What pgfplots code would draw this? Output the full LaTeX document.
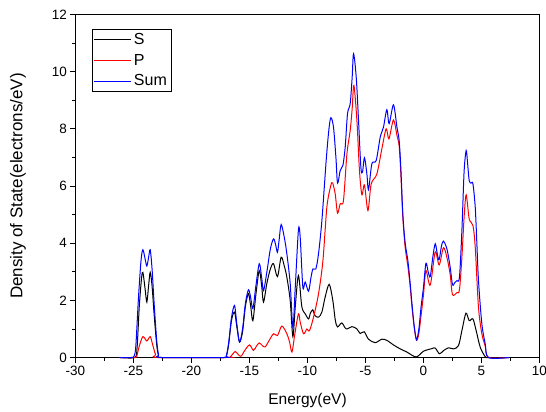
\documentclass[border=0pt]{standalone}
\usepackage{pgfplots}
\pgfplotsset{compat=1.18}
\usepackage{fontspec}
\setmainfont{Liberation Sans}
\begin{document}
\begin{tikzpicture}
\begin{axis}[
  name=ax,
  scale only axis,
  width=464pt, height=343pt,
  xmin=-30, xmax=10, ymin=0, ymax=12,
  xtick={-30,-25,...,10}, ytick={0,2,...,12},
  minor x tick num=1, minor y tick num=1,
  tick pos=left, tick align=outside,
  major tick length=5pt, minor tick length=3pt,
  axis line style={line width=0.9pt},
  every tick/.style={line width=0.8pt, black},
  /pgf/number format/assume math mode=true,
  ticklabel style={font=\fontsize{13.5}{15}\selectfont},
  xlabel={Energy(eV)},
  ylabel={Density of State(electrons/eV)},
  xlabel style={font=\fontsize{15.5}{17}\selectfont, at={(axis description cs:0.5,-0.124)}, anchor=center},
  ylabel style={font=\fontsize{17}{19}\selectfont, at={(axis description cs:-0.124,0.5)}, anchor=center},
  clip=false,
  legend style={at={(rel axis cs:0.035,0.957)}, anchor=north west, draw=black, line width=0.6pt,
    font=\fontsize{16}{16}\selectfont, inner sep=2pt, row sep=4pt, cells={anchor=west}},
  legend image code/.code={\draw[#1, line width=0.9pt] (0pt,0pt) -- (37pt,0pt);},
]
% S
\addplot[black, line width=1pt, smooth, tension=0.5] coordinates {
(-26.2,0) (-24.9,0) (-24.7,0.3) (-24.5,1.8) (-24.3,2.8) (-24.19,2.98) (-24.0,2.4) (-23.85,1.94)
(-23.7,2.5) (-23.56,2.98) (-23.4,2.5) (-23.22,1.5) (-23.0,0.45) (-22.84,0.08) (-22.6,0)
(-17.2,0) (-17.0,0.05) (-16.8,0.45) (-16.55,1.3) (-16.29,1.59) (-16.1,1.1) (-15.86,0.54)
(-15.6,0.9) (-15.35,1.8) (-15.09,2.23) (-14.9,1.8) (-14.71,1.29) (-14.45,2.2) (-14.16,3.04)
(-13.95,2.5) (-13.79,1.94) (-13.5,2.6) (-13.2,3.1) (-12.93,3.28) (-12.59,2.83) (-12.27,3.51)
(-12.0,3.2) (-11.78,2.81) (-11.49,1.99) (-11.26,0.73) (-11.05,1.8) (-10.78,2.87) (-10.49,1.78)
(-10.20,1.53) (-9.91,1.35) (-9.77,1.53) (-9.55,1.67) (-9.36,1.47) (-9.05,1.41) (-8.76,1.59)
(-8.48,2.11) (-8.13,2.56) (-7.82,2.0) (-7.60,1.3) (-7.41,1.07) (-7.04,1.21) (-6.67,1.0)
(-6.17,1.08) (-5.74,1.0) (-5.46,0.84) (-5.11,0.9) (-4.74,0.64) (-4.16,0.52) (-3.59,0.64)
(-3.16,0.60) (-2.59,0.44) (-2.0,0.30) (-1.43,0.19) (-0.63,0.02) (0.0,0.22) (0.72,0.31)
(1.01,0.33) (1.38,0.13) (1.72,0.24) (2.16,0.34) (2.59,0.30) (3.02,0.42) (3.31,0.94)
(3.66,1.55) (3.94,1.29) (4.26,1.35) (4.54,0.94) (4.89,0.36) (5.32,0.03) (5.60,0) (7.35,0)
};
\addlegendentry{S}
% P
\addplot[red, line width=1pt, smooth, tension=0.5] coordinates {
(-26.2,0) (-24.85,0) (-24.7,0.08) (-24.5,0.4) (-24.19,0.73) (-23.85,0.58) (-23.56,0.73)
(-23.35,0.45) (-23.1,0.1) (-22.9,0) (-17.0,0) (-16.66,0.02) (-16.45,0.12) (-16.23,0.21)
(-16.0,0.12) (-15.74,0.04) (-15.4,0.25) (-15.0,0.44) (-14.66,0.25) (-14.4,0.4) (-14.16,0.51)
(-13.9,0.42) (-13.65,0.37) (-13.3,0.6) (-12.93,0.83) (-12.59,0.77) (-12.21,1.10) (-11.78,0.83)
(-11.55,0.55) (-11.34,0.19) (-11.1,0.8) (-10.78,1.53) (-10.63,1.24) (-10.34,0.83) (-10.05,1.0)
(-9.83,0.94) (-9.48,1.41) (-9.05,2.23) (-8.67,3.39) (-8.33,5.26) (-8.0,6.0) (-7.84,6.11)
(-7.61,5.72) (-7.41,5.05) (-7.18,5.38) (-6.90,5.49) (-6.60,7.13) (-6.32,7.94) (-6.15,8.7)
(-6.00,9.52) (-5.74,8.29) (-5.52,6.54) (-5.31,5.69) (-5.09,6.04) (-4.79,5.14) (-4.51,6.07)
(-4.02,6.42) (-3.59,7.30) (-3.22,8.00) (-2.98,7.65) (-2.59,8.31) (-2.29,7.77) (-2.10,7.4)
(-1.95,6.4) (-1.78,4.9) (-1.58,3.85) (-1.35,3.2) (-1.15,2.5) (-1.0,1.8) (-0.8,1.05) (-0.6,0.6)
(-0.4,0.85) (-0.2,1.5) (0.0,2.2) (0.21,3.04) (0.58,2.53) (1.01,3.69) (1.35,3.24) (1.72,3.84)
(2.02,3.5) (2.30,2.9) (2.50,2.20) (2.88,2.27) (3.10,2.37) (3.31,3.5) (3.5,4.9) (3.68,5.69)
(3.94,4.85) (4.26,4.62) (4.46,3.86) (4.74,1.76) (5.03,0.83) (5.32,0.4) (5.60,0) (7.35,0)
};
\addlegendentry{P}
% Sum
\addplot[blue, line width=1pt, smooth, tension=0.5] coordinates {
(-26.2,0) (-25.2,0) (-24.95,0.05) (-24.8,0.4) (-24.57,2.1) (-24.35,3.4) (-24.19,3.77)
(-24.0,3.45) (-23.85,3.2) (-23.7,3.5) (-23.56,3.77) (-23.4,3.1) (-23.22,1.88) (-23.0,0.6)
(-22.84,0.1) (-22.6,0) (-17.2,0) (-17.0,0.05) (-16.8,0.5) (-16.55,1.4) (-16.29,1.82)
(-16.1,1.2) (-15.86,0.54) (-15.6,1.0) (-15.35,1.9) (-15.09,2.37) (-14.9,2.1) (-14.71,1.71)
(-14.45,2.5) (-14.16,3.28) (-13.95,2.8) (-13.79,2.34) (-13.5,3.0) (-13.2,3.8) (-12.93,4.15)
(-12.75,3.95) (-12.59,3.68) (-12.45,4.1) (-12.27,4.65) (-12.0,4.2) (-11.78,3.63) (-11.49,2.58)
(-11.26,1.06) (-11.05,2.5) (-10.78,4.47) (-10.63,4.21) (-10.40,2.46) (-10.20,2.64) (-9.91,2.32)
(-9.70,2.8) (-9.53,3.10) (-9.28,3.10) (-9.05,3.63) (-8.76,4.79) (-8.39,6.89) (-8.15,8.0)
(-7.98,8.39) (-7.76,8.06) (-7.55,7.0) (-7.41,6.10) (-7.18,6.54) (-6.95,6.72) (-6.75,7.36)
(-6.55,8.53) (-6.32,8.88) (-6.15,9.8) (-6.03,10.63) (-5.80,9.81) (-5.60,8.29) (-5.40,6.66)
(-5.26,6.48) (-5.09,6.99) (-4.88,6.42) (-4.74,5.87) (-4.45,6.78) (-4.08,6.89) (-3.73,7.71)
(-3.45,8.06) (-3.16,8.67) (-2.96,8.18) (-2.59,8.84) (-2.29,8.06) (-2.10,7.6) (-1.95,6.6)
(-1.78,5.0) (-1.58,4.0) (-1.35,3.4) (-1.15,2.6) (-1.0,1.9) (-0.8,1.1) (-0.6,0.62) (-0.4,1.0)
(-0.2,1.8) (0.0,2.46) (0.21,3.30) (0.4,3.0) (0.58,2.83) (0.8,3.5) (1.01,3.98) (1.2,3.6)
(1.35,3.42) (1.55,3.9) (1.72,4.07) (2.02,3.80) (2.30,3.16) (2.50,2.55) (2.7,2.62) (2.88,2.69)
(3.10,2.81) (3.31,4.44) (3.5,6.5) (3.68,7.24) (3.8,6.8) (3.94,6.19) (4.1,6.1) (4.26,6.08)
(4.46,5.26) (4.6,4.0) (4.74,2.69) (5.03,1.18) (5.32,0.48) (5.60,0) (7.35,0)
};
\addlegendentry{Sum}
\end{axis}
\pgfresetboundingbox
\path[use as bounding box] ([xshift=-75.5pt,yshift=-54.5pt]ax.south west) rectangle ([xshift=6.5pt,yshift=14.5pt]ax.north east);
\end{tikzpicture}
\end{document}
